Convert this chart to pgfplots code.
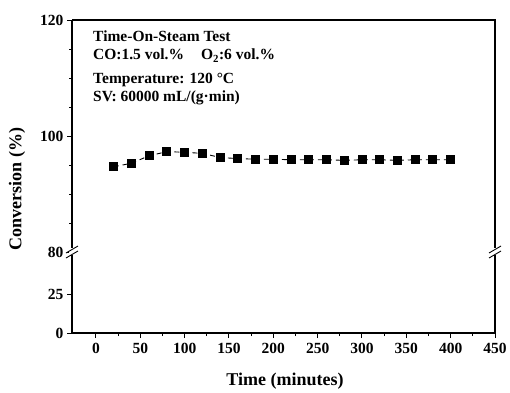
\documentclass[border=0pt]{standalone}
\usepackage{fontspec}
\setmainfont{Liberation Serif}
\usepackage{pgfplots}
\pgfplotsset{compat=1.18}
\begin{document}
\begin{tikzpicture}[font=\bfseries]
\path (-72pt,-59pt) rectangle (438pt,333pt);
\pgfplotsset{
 common/.style={scale only axis, width=423pt, xmin=-27, xmax=450,
  /pgf/number format/assume math mode=true,
  tick label style={font=\fontsize{15.5}{15.5}\selectfont\bfseries},
  axis line style={line width=1.1pt,-},
  tick style={line width=1pt, black},
  tick align=outside, major tick length=5pt, minor tick length=3pt,
  axis y line*=left, clip=false},
}
\begin{axis}[common, at={(0pt,0pt)}, anchor=south west, height=81pt,
  ymin=0, ymax=53, ytick={0,25},
  axis x line*=bottom,
  xtick={0,50,...,450}, minor x tick num=1,
  xticklabel style={yshift=-2pt}]
\draw[line width=1.1pt] (rel axis cs:1,0) -- (rel axis cs:1,1);
\end{axis}
\begin{axis}[common, at={(0pt,81pt)}, anchor=south west, height=232pt,
  ymin=80, ymax=120, ytick={80,100,120}, minor y tick num=3,
  axis x line=none]
\draw[line width=1.1pt] (rel axis cs:0,1) -- (rel axis cs:1,1) -- (rel axis cs:1,0);
\addplot[black, line width=0.9pt, dash pattern=on 5pt off 4pt, mark=square*, mark size=4pt, mark options={solid}]
 coordinates {(20,94.7) (40,95.3) (60,96.6) (80,97.3) (100,97.2) (120,97.0) (140,96.3) (160,96.1) (180,96.0) (200,96.0) (220,95.9) (240,95.9) (260,95.9) (280,95.8) (300,95.9) (320,95.9) (340,95.8) (360,95.9) (380,95.9) (400,95.9)};
\end{axis}
% axis breaks
\foreach \bx in {0,423}{
 \fill[white] (\bx pt-3pt,78pt) rectangle (\bx pt+3pt,85pt);
 \draw[line width=0.9pt] (\bx pt-6pt,75pt) -- (\bx pt+6pt,82pt);
 \draw[line width=0.9pt] (\bx pt-6pt,80pt) -- (\bx pt+6pt,87pt);
}
\begin{scope}[every node/.style={anchor=base west, inner sep=0pt, font=\fontsize{15.5}{15.5}\selectfont\bfseries}]
\node at (21pt,291pt) {Time-On-Steam Test};
\node at (21pt,273pt) {CO:1.5 vol.\%\hspace{1.1em}O\textsubscript{2}:6 vol.\%};
\node at (21pt,250pt) {Temperature: 120 °C};
\node at (21pt,232pt) {SV: 60000 mL/(g·min)};
\end{scope}
\node[rotate=90, font=\fontsize{18}{18}\selectfont\bfseries] at (-55pt,144pt) {Conversion (\%)};
\node[font=\fontsize{18}{18}\selectfont\bfseries] at (213pt,-48pt) {Time (minutes)};
\end{tikzpicture}
\end{document}
